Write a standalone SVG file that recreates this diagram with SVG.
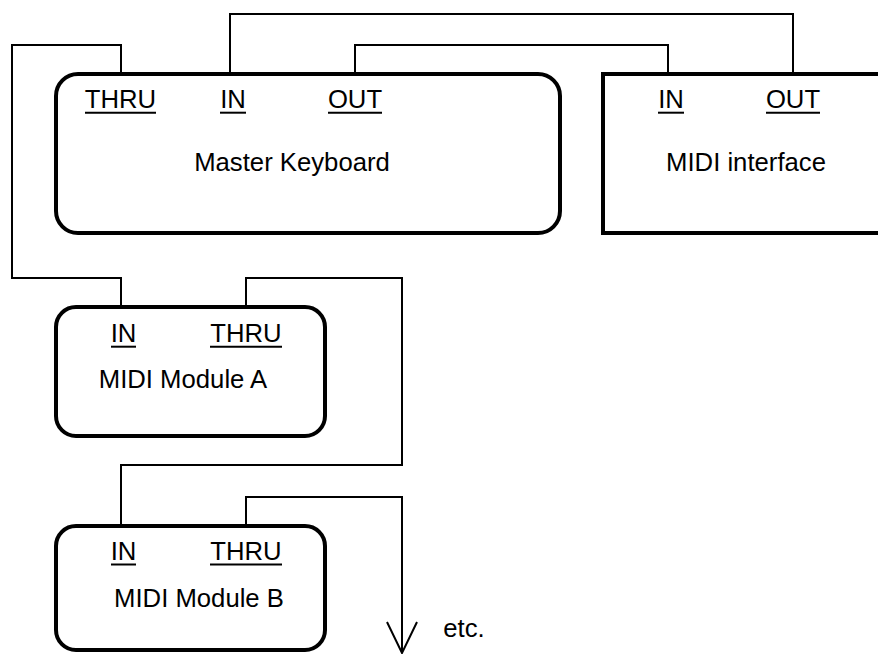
<svg xmlns="http://www.w3.org/2000/svg" width="878" height="654" viewBox="0 0 878 654">
<style>
.box{fill:none;stroke:#000;stroke-width:4}
.wire{fill:none;stroke:#000;stroke-width:2}
.ul{stroke:#000;stroke-width:2}
text{font-family:"Liberation Sans",Arial,sans-serif;font-size:25.7px;fill:#000;text-anchor:middle}
</style>
<rect width="878" height="654" fill="#fff"/>
<g id="connectors">
<polyline class="wire" points="121,74 121,45 12,45 12,278 121,278 121,307"/>
<polyline class="wire" points="230,74 230,14 793,14 793,74"/>
<polyline class="wire" points="355,74 355,45 668,45 668,74"/>
<polyline class="wire" points="246,307 246,278 402,278 402,465 121,465 121,526"/>
<polyline class="wire" points="246,526 246,497 402,497 402,653"/>
<polyline class="wire" points="387,622 402,653 417,622"/>
</g>
<g id="master-keyboard">
<rect class="box" x="56" y="74" width="504" height="159" rx="22"/>
<text x="120.5" y="108">THRU</text><line class="ul" x1="85" y1="112.7" x2="156" y2="112.7"/>
<text x="233" y="108">IN</text><line class="ul" x1="220" y1="112.7" x2="246" y2="112.7"/>
<text x="355" y="108">OUT</text><line class="ul" x1="328" y1="112.7" x2="382" y2="112.7"/>
<text x="292" y="171">Master Keyboard</text>
</g>
<g id="midi-interface">
<path class="box" d="M890,74 H603 V233 H890"/>
<text x="671" y="108">IN</text><line class="ul" x1="658" y1="112.7" x2="684" y2="112.7"/>
<text x="793" y="108">OUT</text><line class="ul" x1="766" y1="112.7" x2="820" y2="112.7"/>
<text x="746" y="171">MIDI interface</text>
</g>
<g id="module-a">
<rect class="box" x="56" y="307" width="269" height="129" rx="20"/>
<text x="123.5" y="342">IN</text><line class="ul" x1="111" y1="346.7" x2="136" y2="346.7"/>
<text x="246" y="342">THRU</text><line class="ul" x1="210" y1="346.7" x2="282" y2="346.7"/>
<text x="183" y="388">MIDI Module A</text>
</g>
<g id="module-b">
<rect class="box" x="56" y="526" width="269" height="124" rx="20"/>
<text x="123.5" y="560">IN</text><line class="ul" x1="111" y1="564.5" x2="136" y2="564.5"/>
<text x="246" y="560">THRU</text><line class="ul" x1="210" y1="564.5" x2="282" y2="564.5"/>
<text x="199" y="607">MIDI Module B</text>
</g>
<g id="etc">
<text x="464" y="637">etc.</text>
</g>
</svg>
